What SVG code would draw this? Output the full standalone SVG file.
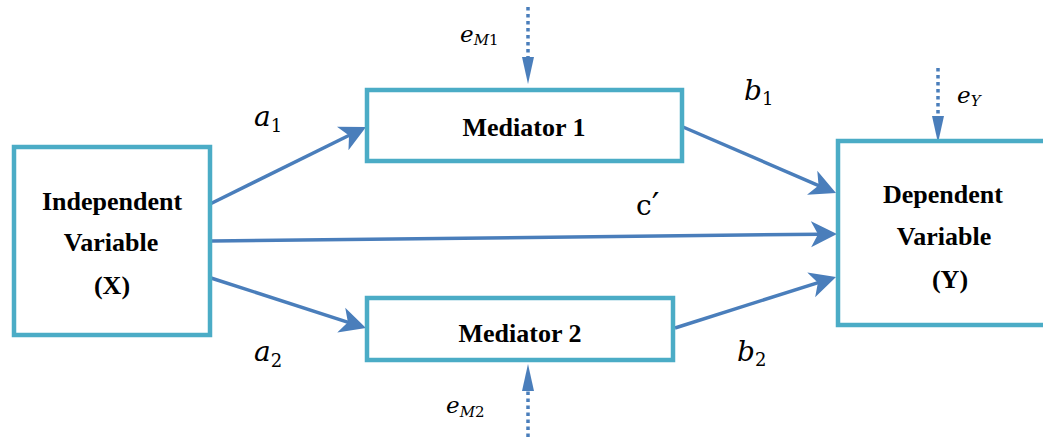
<svg xmlns="http://www.w3.org/2000/svg" width="1043" height="439" viewBox="0 0 1043 439">
<style>
.box{fill:#fff;stroke:#4bacc6;stroke-width:4.5}
.lbl{font-family:"Liberation Serif","Times New Roman",serif;font-weight:bold;font-size:26px;fill:#000;text-anchor:middle}
.arr{stroke:#4a7ebb;stroke-width:3.5;fill:none;marker-end:url(#ah)}
.dot{stroke:#4a7ebb;stroke-width:3.5;fill:none;stroke-dasharray:3.5 3.5;marker-end:url(#dh)}
.m{font-family:"DejaVu Serif",serif;font-style:italic;fill:#000}
.up{font-family:"DejaVu Serif",serif;font-style:normal;fill:#000}
.sub{font-style:normal}
</style>
<defs>
<marker id="ah" markerUnits="userSpaceOnUse" viewBox="0 -14 28 28" markerWidth="28" markerHeight="28" refX="9" refY="0" orient="auto">
<path d="M0,-13 L26,0 L0,13 L7,0 Z" fill="#4a7ebb"/>
</marker>
<marker id="dh" markerUnits="userSpaceOnUse" viewBox="0 -7 28 14" markerWidth="28" markerHeight="14" refX="2" refY="0" orient="auto">
<path d="M0,-6 L27,0 L0,6 Z" fill="#4a7ebb"/>
</marker>
</defs>
<g id="connectors">
<line class="arr" x1="206" y1="206" x2="350.8" y2="134.5"/>
<line class="arr" x1="211" y1="278" x2="349.8" y2="322.8"/>
<line class="arr" x1="211" y1="241" x2="820" y2="234.2"/>
<line class="arr" x1="683" y1="127" x2="820.4" y2="186.3"/>
<line class="arr" x1="675" y1="328" x2="819.8" y2="282.1"/>
<line class="dot" x1="528" y1="7" x2="528" y2="59"/>
<line class="dot" x1="528" y1="437" x2="528" y2="389"/>
<line class="dot" x1="938" y1="68" x2="938" y2="118"/>
</g>
<g id="node-x">
<rect class="box" x="14" y="147" width="196" height="188"/>
<text class="lbl" x="112" y="210">Independent</text>
<text class="lbl" x="111" y="251">Variable</text>
<text class="lbl" x="112" y="294">(X)</text>
</g>
<g id="node-m1">
<rect class="box" x="367" y="90" width="315" height="71"/>
<text class="lbl" x="524" y="136">Mediator 1</text>
</g>
<g id="node-m2">
<rect class="box" x="367" y="298" width="306" height="62"/>
<text class="lbl" x="520" y="342">Mediator 2</text>
</g>
<g id="node-y">
<rect class="box" x="838" y="141" width="220" height="184"/>
<text class="lbl" x="943" y="203">Dependent</text>
<text class="lbl" x="944" y="245">Variable</text>
<text class="lbl" x="950" y="288">(Y)</text>
</g>
<g id="labels">
<text class="m" x="254" y="126" font-size="28">a<tspan class="sub" font-size="18" dy="6">1</tspan></text>
<text class="m" x="254" y="361" font-size="28">a<tspan class="sub" font-size="18" dy="6">2</tspan></text>
<text class="m" x="744" y="100" font-size="28">b<tspan class="sub" font-size="18" dy="5">1</tspan></text>
<text class="m" x="737" y="361" font-size="28">b<tspan class="sub" font-size="18" dy="5">2</tspan></text>
<text class="up" x="636" y="215" font-size="28">c<tspan font-size="34" dy="2">′</tspan></text>
<text class="m" x="460" y="42" font-size="23">e<tspan font-size="15" dy="3">M</tspan><tspan class="sub" font-size="15">1</tspan></text>
<text class="m" x="446" y="413" font-size="23">e<tspan font-size="15" dy="4">M</tspan><tspan class="sub" font-size="15">2</tspan></text>
<text class="m" x="957" y="103" font-size="23">e<tspan font-size="15" dy="3">Y</tspan></text>
</g>
</svg>
